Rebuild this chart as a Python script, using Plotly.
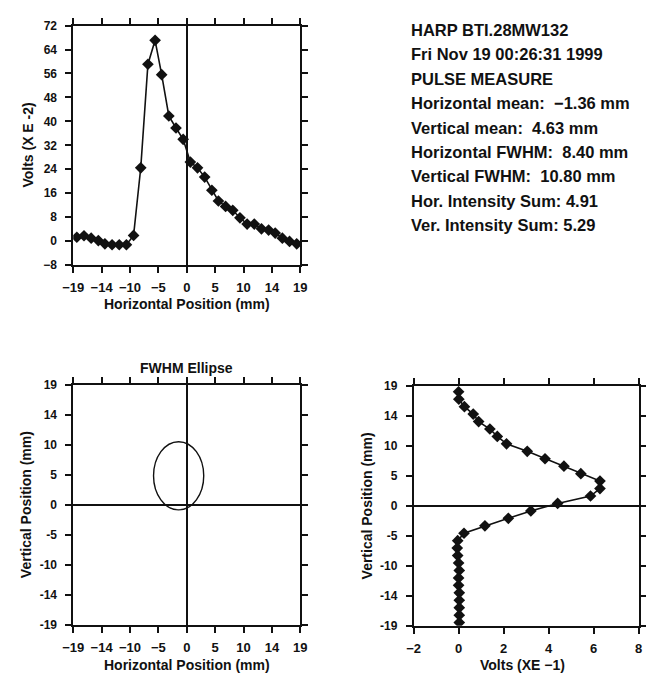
import plotly.graph_objects as go

W, H = 652, 681

# ---------------- data ----------------
hor_pos_mm = [-18.4, -17.2, -16.0, -14.8, -13.7, -12.5, -11.3, -10.1, -8.9, -7.7, -6.5, -5.3,
              -4.2, -3.0, -1.8, -0.6, 0.6, 1.8, 3.0, 4.2, 5.3, 6.5, 7.7, 8.9, 10.1, 11.3,
              12.5, 13.7, 14.8, 16.0, 17.2, 18.4]
hor_volts_e2 = [1.3, 1.8, 1.0, 0.2, -0.9, -1.2, -1.2, -1.2, 1.9, 24.5, 59.1, 67.1,
                55.6, 41.8, 37.8, 34.0, 26.4, 24.5, 21.4, 17.0, 13.4, 11.6, 10.3, 7.8,
                5.7, 5.7, 4.1, 3.7, 2.7, 1.0, -0.1, -0.9]

ver_pos_mm = [18.05, 16.87, 15.69, 14.51, 13.33, 12.15, 10.98, 9.80, 8.62, 7.44, 6.26, 5.08,
              3.90, 2.72, 1.54, 0.36, -0.82, -2.0, -3.18, -4.36, -5.54, -6.71, -7.89, -9.07,
              -10.25, -11.43, -12.61, -13.79, -14.97, -16.15, -17.33, -18.5]
ver_volts_e1 = [0.0, 0.01, 0.26, 0.65, 0.89, 1.39, 1.72, 2.13, 3.05, 3.84, 4.68, 5.43,
                6.28, 6.28, 5.86, 4.40, 3.21, 2.21, 1.17, 0.24, -0.04, -0.06, -0.04, 0.0,
                0.03, 0.0, 0.0, 0.03, 0.03, 0.03, 0.03, 0.03]

hor_mean, ver_mean = -1.36, 4.63
hor_fwhm, ver_fwhm = 8.40, 10.80

pos_tickvals = [-19, -14.25, -9.5, -4.75, 0, 4.75, 9.5, 14.25, 19]
pos_ticktext_x = ["\u221219", "\u221214", "\u221210", "\u22125", "0", "5", "10", "14", "19"]
pos_ticktext_y = ["-19", "-14", "-10", "-5", "0", "5", "10", "14", "19"]
volt2_tickvals = [-8, 0, 8, 16, 24, 32, 40, 48, 56, 64, 72]
volt1_tickvals = [-2, 0, 2, 4, 6, 8]

info_lines = [
    "HARP BTI.28MW132",
    "Fri Nov 19 00:26:31 1999",
    "PULSE MEASURE",
    "Horizontal mean:  \u22121.36 mm",
    "Vertical mean:  4.63 mm",
    "Horizontal FWHM:  8.40 mm",
    "Vertical FWHM:  10.80 mm",
    "Hor. Intensity Sum: 4.91",
    "Ver. Intensity Sum: 5.29",
]

# ---------------- style ----------------
FAM = "Liberation Sans, Arial, Helvetica, sans-serif"
BLK = "#111111"
px_x = lambda p: p / W
px_y = lambda p: 1 - p / H

fig = go.Figure()

mk = dict(symbol="diamond", size=9, color=BLK)
fig.add_trace(go.Scatter(x=hor_pos_mm, y=hor_volts_e2, mode="lines+markers",
                         line=dict(color=BLK, width=1.6), marker=mk,
                         xaxis="x", yaxis="y", showlegend=False))
fig.add_trace(go.Scatter(x=ver_volts_e1, y=ver_pos_mm, mode="lines+markers",
                         line=dict(color=BLK, width=1.6), marker=mk,
                         xaxis="x3", yaxis="y3", showlegend=False))

def ax(**kw):
    d = dict(showline=True, linecolor=BLK, linewidth=1.6, mirror="ticks",
             ticks="outside", ticklen=6, tickwidth=1.5, tickcolor=BLK,
             showgrid=False, zeroline=False, zerolinecolor=BLK, zerolinewidth=1.5,
             fixedrange=True)
    d.update(kw)
    return d

xtf = dict(family=FAM, size=13, color=BLK, weight="bold")
ytf = dict(family=FAM, size=12, color=BLK, weight="bold")

dom_left = [px_x(64), px_x(297.5)]
dom_right = [px_x(414), px_x(645.5)]
dom_top = [px_y(263.5), px_y(19)]
dom_bot = [px_y(631), px_y(386)]

fig.update_layout(
    width=W, height=H,
    margin=dict(l=0, r=0, t=0, b=0),
    paper_bgcolor="white", plot_bgcolor="white",
    xaxis=ax(domain=dom_left, anchor="y", range=[-19, 19], tickvals=pos_tickvals,
             ticktext=pos_ticktext_x, tickfont=xtf, zeroline=True, ticklabelstandoff=4),
    yaxis=ax(domain=dom_top, anchor="x", range=[-8, 72], tickvals=volt2_tickvals,
             tickfont=ytf, ticklabelstandoff=6),
    xaxis2=ax(domain=dom_left, anchor="y2", range=[-19, 19], tickvals=pos_tickvals,
              ticktext=pos_ticktext_x, tickfont=xtf, zeroline=True, ticklabelstandoff=4),
    yaxis2=ax(domain=dom_bot, anchor="x2", range=[-19, 19], tickvals=pos_tickvals,
              ticktext=pos_ticktext_y, tickfont=ytf, zeroline=True, ticklabelstandoff=6),
    xaxis3=ax(domain=dom_right, anchor="y3", range=[-2, 8], tickvals=volt1_tickvals,
              tickfont=xtf, ticklabelstandoff=4),
    yaxis3=ax(domain=[px_y(631.7), px_y(386.7)], anchor="x3", range=[-19, 19],
              tickvals=pos_tickvals, ticktext=pos_ticktext_y, tickfont=ytf,
              zeroline=True, ticklabelstandoff=6),
)

# FWHM ellipse
fig.add_shape(type="circle", xref="x2", yref="y2",
              x0=hor_mean - hor_fwhm / 2, x1=hor_mean + hor_fwhm / 2,
              y0=ver_mean - ver_fwhm / 2, y1=ver_mean + ver_fwhm / 2,
              line=dict(color=BLK, width=1.4))

tfont = dict(family=FAM, size=14, color=BLK, weight="bold")

def ann(text, x, y, angle=0, font=tfont, xanchor="center"):
    fig.add_annotation(text=text, x=px_x(x), y=px_y(y), xref="paper", yref="paper",
                       showarrow=False, textangle=angle, font=font,
                       xanchor=xanchor, yanchor="middle")

ann("Volts (X E -2)", 18, 141, angle=-90)
ann("Horizontal Position (mm)", 181, 303)
ann("FWHM Ellipse", 180, 369)
ann("Vertical Position (mm)", 15, 508, angle=-90)
ann("Horizontal Position (mm)", 181, 672)
ann("Vertical Position (mm)", 366, 509, angle=-90)
ann("Volts (XE \u22121)", 526, 672)

info_font = dict(family=FAM, size=16.5, color=BLK, weight="bold")
for i, line in enumerate(info_lines):
    ann(line, 409, 23.5 + 24.9 * i, font=info_font, xanchor="left")

fig.write_html("out.html", config={"displayModeBar": False},
               post_script="document.body.style.margin='0';document.body.style.padding='0';")
